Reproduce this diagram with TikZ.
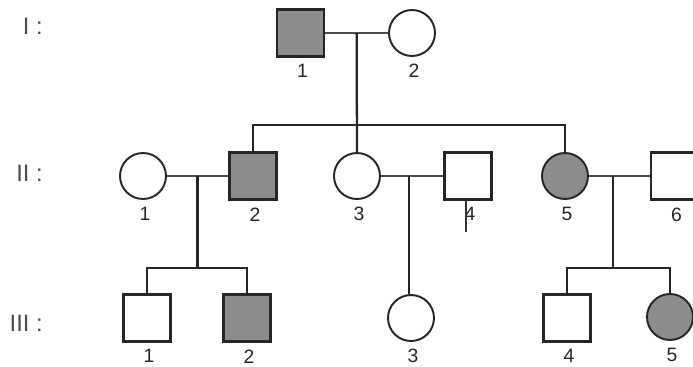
\documentclass[tikz,border=0pt]{standalone}
\usepackage{fontspec}
\setmainfont{Liberation Sans}
\usepackage{tikz}
\usetikzlibrary{positioning}
\usetikzlibrary{calc}
\tikzstyle{male}=[rectangle,draw=black!85,fill=white,line width=1.4pt,minimum size=0.94cm,inner sep=0pt]
\tikzstyle{female}=[circle,draw=black!85,fill=white,line width=1.1pt,minimum size=0.92cm,inner sep=0pt]
\tikzstyle{affected}=[fill=black!45]
\tikzstyle{line}=[draw,line width=1.3pt,black!85]
\tikzstyle{marriage}=[draw,line width=1.2pt,black!70]
\tikzstyle{num}=[font=\fontsize{11}{13}\selectfont,black!85,inner sep=0pt,xshift=0.04cm,label distance=0.13cm]
\tikzstyle{gen}=[font=\fontsize{13.5}{15}\selectfont,black!70,anchor=east,inner sep=0pt]

\begin{document}
\begin{tikzpicture}[x=0.02cm,y=-0.02cm]
  \useasboundingbox (0,0) rectangle (693,366);

  % generations
  \foreach \y/\name/\lab in {26/genI/I, 173/genII/II, 323/genIII/III}
     \node[gen] (\name) at (43,\y) {\lab\ :};

  % individuals
  \foreach \x/\y/\name/\lab in {468/176/II4/4, 674.5/176/II6/6, 147/318/III1/1, 567/318/III4/4}
     \node[male, label={[num]below:\lab}] (\name) at (\x,\y) {};
  \foreach \x/\y/\name/\lab in {300.5/33/I1/1, 253/176/II2/2, 247/318/III2/2}
     \node[male, affected, label={[num]below:\lab}] (\name) at (\x,\y) {};
  \foreach \x/\y/\name/\lab in {412/33/I2/2, 143/176/II1/1, 357/176/II3/3, 411/318/III3/3}
     \node[female, label={[num]below:\lab}] (\name) at (\x,\y) {};
  \foreach \x/\y/\name/\lab in {565/176/II5/5, 670/317/III5/5}
     \node[female, affected, label={[num]below:\lab}] (\name) at (\x,\y) {};

  % couples
  \foreach \a/\b/\m/\p in {I1/I2/m1/0.5, II1/II2/m2/0.5, II3/II4/m3/0.45, II5/II6/m4/0.4}
     \path[marriage] (\a.east) -- coordinate[pos=\p] (\m) (\b.west);

  \coordinate (barII) at (0,125);
  \coordinate (barIII) at (0,268);
  \coordinate (tick) at (466,232);

  % children
  \path[line] (m1) -- (II3.north);
  \path[line] (II2.north) |- (II5.north |- barII) -- (II5.north);
  \path[line] (m2) -- (m2 |- barIII);
  \path[line] (III1.north) |- (III2.north |- barIII) -- (III2.north);
  \path[line] (m3) -- (m3 |- III3.north);
  \path[line] (m4) -- (m4 |- barIII);
  \path[line] (III4.north) |- (III5.north |- barIII) -- (III5.north);
  \path[draw,line width=0.8pt,black!80] (tick |- II4.south) -- (tick);

\end{tikzpicture}
\end{document}
